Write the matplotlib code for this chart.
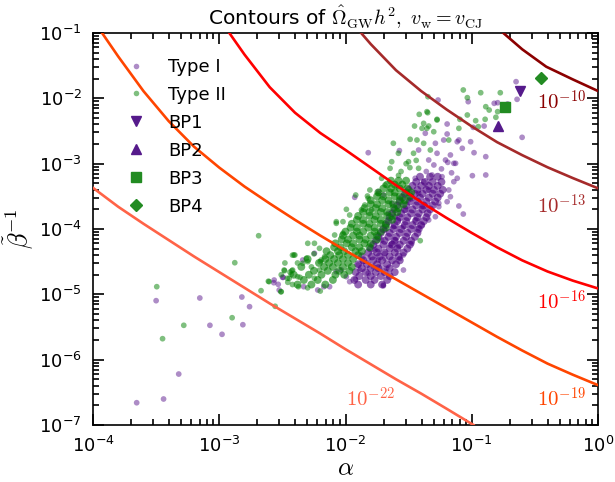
import numpy as np
import matplotlib
matplotlib.use("Agg")
import matplotlib.pyplot as plt
from matplotlib.lines import Line2D
from matplotlib.ticker import FixedLocator, FixedFormatter, LogLocator, NullFormatter

plt.rcParams['mathtext.fontset'] = 'cm'
plt.rcParams['axes.unicode_minus'] = False
plt.rcParams['font.family'] = ['DejaVu Sans']

# ---------------- data (log10 values) ----------------
# contour curves: log10(alpha), log10(beta^-1)
c22_la = [-4.0, -3.8, -3.6, -3.4, -3.2, -3.0, -2.8, -2.6, -2.4, -2.2, -2.0, -1.8, -1.6, -1.4, -1.2, -0.986]
c22_lb = [-3.37, -3.66, -3.92, -4.17, -4.42, -4.66, -4.90, -5.14, -5.37, -5.60, -5.84, -6.07, -6.30, -6.52, -6.75, -7.0]
c19_la = [-3.928, -3.8, -3.6, -3.4, -3.2, -3.0, -2.8, -2.6, -2.4, -2.2, -2.0, -1.8, -1.6, -1.4, -1.2, -1.0, -0.8, -0.6, -0.4, -0.2, 0.0]
c19_lb = [-1.0, -1.36, -1.89, -2.35, -2.74, -3.06, -3.35, -3.61, -3.86, -4.10, -4.33, -4.55, -4.77, -4.99, -5.21, -5.43, -5.65, -5.86, -6.06, -6.23, -6.39]
c16_la = [-2.92, -2.8, -2.6, -2.4, -2.2, -2.0, -1.8, -1.6, -1.4, -1.2, -1.0, -0.8, -0.6, -0.4, -0.2, 0.0]
c16_lb = [-1.0, -1.33, -1.83, -2.22, -2.53, -2.79, -3.06, -3.33, -3.59, -3.83, -4.06, -4.28, -4.48, -4.65, -4.79, -4.91]
c13_la = [-1.876, -1.8, -1.6, -1.4, -1.2, -1.0, -0.8, -0.6, -0.4, -0.2, 0.0]
c13_lb = [-1.0, -1.17, -1.57, -1.89, -2.17, -2.43, -2.67, -2.87, -3.055, -3.22, -3.377]
c10_la = [-0.75, -0.6, -0.41, -0.2, 0.0]
c10_lb = [-1.0, -1.25, -1.516, -1.71, -1.888]

contour_values = ["10^{-22}", "10^{-19}", "10^{-16}", "10^{-13}", "10^{-10}"]
contour_colors = ["#ff6347", "#ff4500", "#ff0000", "#a52a2a", "#8b0000"]
label_la = [-1.80, -0.29, -0.29, -0.29, -0.29]
label_lb = [-6.60, -6.60, -5.117, -3.648, -2.056]

# Type I points (purple), scattered ones
t1_la = [-3.5, -3.154, -2.821, -2.76, -2.813, -3.074, -2.978, -3.321, -3.441, -3.654, -2.568, -2.533, -2.493,
         -2.339, -2.246, -2.499, -2.565, -2.525, -2.331, -2.22, -2.172, -2.126, -1.993, -1.967, -1.922, -1.887,
         -1.82, -1.78, -1.714, -1.70, -1.82, -1.74, -1.687, -1.647, -1.607, -1.714, -1.767, -1.687, -1.621,
         -1.607, -1.661, -1.634, -1.70, -1.74, -1.86, -1.90, -2.033, -2.073,
         -1.82, -1.573, -1.195, -1.195, -1.115, -1.222, -1.288, -1.275, -1.368, -1.421, -1.341, -1.208, -1.142,
         -1.115, -1.235, -1.315, -1.381, -1.448, -1.182, -1.341, -1.421, -1.501, -1.394, -1.261, -1.288, -1.448,
         -1.527, -1.581, -1.421, -1.541, -1.927,
         -0.649, -0.641, -0.716, -0.795, -0.822, -1.028, -1.267, -0.902, -0.988, -0.601, -0.889, -0.982, -1.075,
         -1.009, -1.102, -1.169, -1.128, -0.995, -0.889, -1.142,
         -1.169, -1.195, -1.102, -1.067, -1.261, -1.341, -1.394, -1.474, -1.541, -1.567, -1.541, -1.70, -1.674,
         -1.687, -1.581, -1.634,
         -1.36, -1.24, -1.16, -1.30, -1.19]
t1_lb = [-5.097, -5.056, -5.041, -5.189, -5.465, -5.474, -5.612, -6.22, -6.602, -6.659, -4.822, -4.847, -4.74,
         -4.475, -4.372, -4.74, -4.781, -4.934, -4.883, -4.934, -4.883, -4.883, -4.73, -4.806, -4.77, -4.628,
         -4.679, -4.577, -4.577, -4.87, -4.45, -4.475, -4.372, -4.245, -4.168, -4.168, -4.322, -4.015, -3.965,
         -3.812, -3.76, -3.607, -3.48, -3.429, -4.50, -4.551, -4.628, -4.653,
         -2.832, -2.80, -2.393, -2.546, -2.664, -2.638, -2.688, -2.841, -2.535, -2.791, -2.944, -2.944, -2.995,
         -3.224, -3.20, -3.173, -3.276, -3.224, -3.403, -3.403, -3.454, -3.556, -3.658, -3.658, -3.812, -3.862,
         -3.709, -3.862, -3.99, -3.965, -3.515,
         -1.745, -2.015, -2.087, -2.067, -2.076, -2.051, -2.026, -2.424, -2.444, -2.597, -2.893, -2.832, -2.765,
         -2.664, -2.638, -2.867, -2.995, -3.184, -3.173, -3.276,
         -3.506, -3.582, -3.648, -3.771, -3.607, -3.862, -3.939, -4.219, -4.398, -4.449, -4.628, -4.857, -4.602,
         -4.449, -4.27, -4.219,
         -3.12, -3.08, -3.14, -3.02, -2.98]

# Type I dense core, read row by row: (log10 beta^-1, [log10 alpha ...])
t1_core_rows = [
    (-4.85, [-1.90, -1.80, -1.71]),
    (-4.78, [-1.93, -1.84, -1.77, -1.67]),
    (-4.72, [-1.89, -1.80, -1.72, -1.65]),
    (-4.66, [-1.92, -1.84, -1.76, -1.69, -1.61]),
    (-4.60, [-1.87, -1.80, -1.74, -1.65]),
    (-4.54, [-1.90, -1.83, -1.75, -1.67, -1.60]),
    (-4.48, [-1.86, -1.78, -1.71, -1.63, -1.57]),
    (-4.42, [-1.87, -1.79, -1.73, -1.65, -1.58]),
    (-4.36, [-1.82, -1.75, -1.69, -1.61, -1.54]),
    (-4.30, [-1.80, -1.74, -1.65, -1.59, -1.51]),
    (-4.24, [-1.78, -1.70, -1.63, -1.57, -1.49]),
    (-4.18, [-1.76, -1.69, -1.61, -1.54, -1.48]),
    (-4.12, [-1.74, -1.66, -1.60, -1.52, -1.45]),
    (-4.06, [-1.72, -1.65, -1.57, -1.51, -1.43]),
    (-4.00, [-1.70, -1.62, -1.56, -1.48, -1.42]),
    (-3.94, [-1.68, -1.61, -1.53, -1.47, -1.40]),
    (-3.88, [-1.66, -1.59, -1.52, -1.44, -1.38]),
    (-3.82, [-1.65, -1.57, -1.51, -1.43, -1.36]),
    (-3.76, [-1.63, -1.56, -1.48, -1.42, -1.35]),
    (-3.70, [-1.61, -1.53, -1.47, -1.39, -1.33]),
    (-3.64, [-1.59, -1.52, -1.44, -1.38, -1.31]),
    (-3.58, [-1.57, -1.49, -1.43, -1.36, -1.29]),
    (-3.52, [-1.55, -1.48, -1.41, -1.34, -1.27]),
    (-3.46, [-1.53, -1.45, -1.39, -1.31, -1.25]),
    (-3.40, [-1.50, -1.43, -1.36, -1.30, -1.23]),
    (-3.34, [-1.47, -1.40, -1.34, -1.27]),
    (-3.28, [-1.44, -1.37, -1.31, -1.24]),
    (-3.20, [-1.41, -1.33, -1.27]),
]

# Type II points (green), scattered ones
t2_la = [-2.688, -2.877, -2.409, -3.495, -2.669, -2.611, -2.509, -2.483, -2.461, -2.425, -2.457, -2.509, -2.557,
         -2.898, -3.281, -3.449, -2.43,
         -1.919, -1.826, -1.847, -1.967, -2.073, -2.086, -2.02, -2.299, -2.246, -2.206, -2.401, -2.339, -2.299,
         -2.419, -2.486, -2.446, -2.379, -2.373, -2.512, -2.605, -2.246, -2.206, -2.193, -2.166,
         -1.416, -1.349, -1.275, -1.453, -1.381, -1.355, -1.301, -1.488, -1.434, -1.381, -1.621, -1.581, -1.634,
         -1.647, -1.501, -1.461, -1.328, -1.421, -1.714, -1.687, -1.594, -1.82, -1.993, -1.874, -1.794, -2.073,
         -2.02, -1.807, -1.74,
         -1.067, -0.929, -0.774, -1.035, -1.347, -0.889, -0.862, -1.355, -1.035, -0.969, -0.894, -0.948, -1.275,
         -1.394, -1.341, -1.182, -1.102, -1.094, -0.795, -0.809, -1.408,
         -2.42, -2.38, -2.31, -2.27, -2.44, -2.36, -2.30, -2.42, -2.20, -2.48, -2.25, -2.20,
         -1.56, -1.49, -1.52, -1.44, -1.58]
t2_lb = [-4.103, -4.516, -4.398, -4.883, -4.944, -4.80, -4.70, -4.638, -4.755, -4.638, -4.816, -4.96, -5.183,
         -5.358, -5.474, -5.679, -4.695,
         -3.48, -3.495, -3.633, -3.786, -3.913, -4.092, -4.066, -4.219, -4.219, -4.296, -4.398, -4.525, -4.50,
         -4.628, -4.628, -4.755, -4.73, -4.883, -4.96, -4.806, -4.755, -4.628, -4.475, -4.424,
         -2.245, -2.22, -2.321, -2.424, -2.383, -2.459, -2.511, -2.627, -2.638, -2.688, -2.688, -2.841, -2.97,
         -3.071, -2.97, -2.841, -2.791, -3.071, -3.224, -3.327, -3.352, -3.53, -3.699, -3.709, -3.709, -3.888,
         -3.888, -3.403, -3.454,
         -1.872, -1.914, -1.914, -1.99, -1.975, -2.128, -2.179, -2.204, -2.255, -2.342, -2.321, -2.434, -2.332,
         -2.459, -2.424, -2.638, -2.459, -2.321, -2.204, -2.29, -4.179,
         -4.40, -4.52, -4.45, -4.58, -4.66, -4.74, -4.90, -4.85, -4.95, -4.52, -4.38, -4.50,
         -3.12, -3.06, -3.00, -2.95, -3.18]

# Type II dense core, read row by row: (log10 beta^-1, [log10 alpha ...])
t2_core_rows = [
    (-4.85, [-2.38, -2.27, -2.16]),
    (-4.78, [-2.33, -2.22, -2.10]),
    (-4.70, [-2.41, -2.29, -2.19, -2.08, -2.01]),
    (-4.64, [-2.25, -2.14, -2.05, -1.97]),
    (-4.58, [-2.35, -2.17, -2.10, -2.02, -1.95]),
    (-4.52, [-2.21, -2.13, -2.06, -1.98]),
    (-4.46, [-2.30, -2.16, -2.09, -2.02, -1.94]),
    (-4.40, [-2.12, -2.05, -1.98, -1.90]),
    (-4.34, [-2.15, -2.06, -2.01, -1.92, -1.87]),
    (-4.28, [-2.09, -2.04, -1.95, -1.89, -1.81]),
    (-4.22, [-2.08, -1.99, -1.94, -1.85, -1.80]),
    (-4.16, [-2.03, -1.98, -1.89, -1.84, -1.75]),
    (-4.10, [-2.02, -1.94, -1.89, -1.80, -1.75]),
    (-4.04, [-2.00, -1.91, -1.86, -1.77, -1.72]),
    (-3.98, [-1.96, -1.91, -1.82, -1.77, -1.68]),
    (-3.92, [-1.95, -1.86, -1.81, -1.72, -1.68]),
    (-3.86, [-1.91, -1.86, -1.77, -1.72, -1.63]),
    (-3.80, [-1.90, -1.81, -1.76, -1.67, -1.63]),
    (-3.74, [-1.86, -1.81, -1.72, -1.67, -1.59]),
    (-3.68, [-1.85, -1.76, -1.71, -1.62, -1.58]),
    (-3.62, [-1.80, -1.75, -1.66, -1.62, -1.54]),
    (-3.56, [-1.80, -1.71, -1.66, -1.57, -1.53]),
    (-3.50, [-1.75, -1.70, -1.61, -1.57, -1.49]),
    (-3.44, [-1.74, -1.65, -1.61, -1.52, -1.48]),
    (-3.38, [-1.70, -1.64, -1.57, -1.51]),
    (-3.32, [-1.67, -1.61, -1.55]),
    (-3.26, [-1.64, -1.58, -1.52]),
]

# benchmark points: alpha, beta^-1
bp_names = ["BP1", "BP2", "BP3", "BP4"]
bp_alpha = [0.243, 0.161, 0.182, 0.353]
bp_beta = [0.0129, 0.00373, 0.00728, 0.0207]
bp_markers = ["v", "^", "s", "D"]
bp_colors = ["#551a8b", "#551a8b", "#228b22", "#228b22"]

x_ticks = [1e-4, 1e-3, 1e-2, 1e-1, 1e0]
x_ticklabels = ["10^{-4}", "10^{-3}", "10^{-2}", "10^{-1}", "10^{0}"]
y_ticks = [1e-7, 1e-6, 1e-5, 1e-4, 1e-3, 1e-2, 1e-1]
y_ticklabels = ["10^{-7}", "10^{-6}", "10^{-5}", "10^{-4}", "10^{-3}", "10^{-2}", "10^{-1}"]


def expand(rows):
    la, lb = [], []
    for b, alist in rows:
        for a in alist:
            la.append(a)
            lb.append(b)
    return np.array(la), np.array(lb)


t1c_la, t1c_lb = expand(t1_core_rows)
t2c_la, t2c_lb = expand(t2_core_rows)

# ---------------- figure ----------------
fig = plt.figure(figsize=(6.15, 4.82), dpi=100)
L, R, B, T = 93 / 615, 598 / 615, 1 - 425 / 482, 1 - 33 / 482
ax = fig.add_axes([L, B, R - L, T - B])
ax.set_xscale('log')
ax.set_yscale('log')

purple = "#4b0082"
green = "#008000"
ax.scatter(10 ** np.array(t1_la), 10 ** np.array(t1_lb), s=17, c=purple, alpha=0.45,
           edgecolors='none', zorder=2)
ax.scatter(10 ** t1c_la, 10 ** t1c_lb, s=32, c=purple, alpha=0.6, edgecolors='none', zorder=2)
ax.scatter(10 ** np.array(t2_la), 10 ** np.array(t2_lb), s=17, c=green, alpha=0.5,
           edgecolors='none', zorder=2)
ax.scatter(10 ** t2c_la, 10 ** t2c_lb, s=32, c=green, alpha=0.6, edgecolors='none', zorder=2)

curves = [(c22_la, c22_lb), (c19_la, c19_lb), (c16_la, c16_lb), (c13_la, c13_lb), (c10_la, c10_lb)]
for (la, lb), col, val, tx, ty in zip(curves, contour_colors, contour_values, label_la, label_lb):
    ax.plot(10 ** np.array(la), 10 ** np.array(lb), color=col, lw=1.9, zorder=3)
    ax.text(10 ** tx, 10 ** ty, "$" + val + "$", color=col, fontsize=15,
            ha='center', va='center', zorder=4)

handles = [
    Line2D([], [], linestyle='none', marker='o', markersize=4, color=purple, alpha=0.45, markeredgecolor='none'),
    Line2D([], [], linestyle='none', marker='o', markersize=4, color=green, alpha=0.5, markeredgecolor='none'),
]
labels = ["Type I", "Type II"]
for name, a, b, m, col in zip(bp_names, bp_alpha, bp_beta, bp_markers, bp_colors):
    ln, = ax.plot([a], [b], linestyle='none', marker=m, color=col,
                  markersize=6.5 if m != 'D' else 6, markeredgecolor=col, zorder=5)
    handles.append(ln)
    labels.append(name)

ax.set_xlim(1e-4, 1)
ax.set_ylim(1e-7, 1e-1)

ax.xaxis.set_major_locator(FixedLocator(x_ticks))
ax.xaxis.set_major_formatter(FixedFormatter([r"$\mathregular{" + t + "}$" for t in x_ticklabels]))
ax.yaxis.set_major_locator(FixedLocator(y_ticks))
ax.yaxis.set_major_formatter(FixedFormatter([r"$\mathregular{" + t + "}$" for t in y_ticklabels]))
ax.xaxis.set_minor_locator(LogLocator(base=10, subs=np.arange(2, 10), numticks=20))
ax.yaxis.set_minor_locator(LogLocator(base=10, subs=np.arange(2, 10), numticks=20))
ax.xaxis.set_minor_formatter(NullFormatter())
ax.yaxis.set_minor_formatter(NullFormatter())
ax.tick_params(which='both', direction='in', top=True, right=True, labelsize=13, width=1.2)
ax.tick_params(which='major', length=8, pad=8)
ax.tick_params(which='minor', length=4)
for sp in ax.spines.values():
    sp.set_linewidth(1.2)

ax.set_xlabel(r"$\alpha$", fontsize=18, labelpad=0)
ax.set_ylabel(r"$\tilde{\beta}^{-1}$", fontsize=19, labelpad=2)
ax.set_title(r"Contours of $\hat{\Omega}_{\rm GW}h^2,\ v_{\rm w}=v_{\rm CJ}$", fontsize=14.5, pad=6)

ax.legend(handles, labels, loc='upper left', frameon=False, fontsize=13, numpoints=1,
          handletextpad=0.77, labelspacing=0.55, borderaxespad=0.0, borderpad=0.4,
          bbox_to_anchor=(0.036, 0.955))

fig.savefig("out.png", dpi=100)
